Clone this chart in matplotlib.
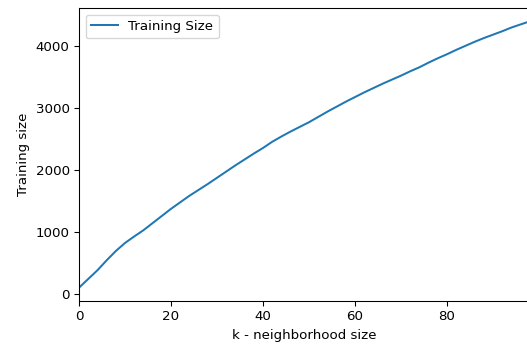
import matplotlib
matplotlib.use("Agg")
import matplotlib.pyplot as plt

k_values = [0, 2, 4, 6, 8, 10, 12, 14, 16, 18, 20, 22, 24, 26, 28, 30, 32, 34, 36, 38,
            40, 42, 44, 46, 48, 50, 52, 54, 56, 58, 60, 62, 64, 66, 68, 70, 72, 74, 76, 78,
            80, 82, 84, 86, 88, 90, 92, 94, 96, 98]
training_size = [100, 240, 380, 540, 690, 820, 925, 1025, 1140, 1255, 1370, 1475, 1580, 1675,
                 1770, 1870, 1970, 2070, 2165, 2260, 2350, 2450, 2535, 2615, 2690, 2765, 2850,
                 2935, 3015, 3095, 3170, 3245, 3315, 3385, 3450, 3515, 3585, 3650, 3725, 3795,
                 3860, 3930, 3995, 4060, 4120, 4175, 4230, 4290, 4340, 4390]

DPI = 96
fig = plt.figure(figsize=(527/DPI, 345/DPI), dpi=DPI)
ax = fig.add_axes([79/527, 44/345, 450.8/527, 293/345])
ax.plot(k_values, training_size, label="Training Size")
ax.set_xlim(0, 98)
ax.set_xticks([0, 20, 40, 60, 80])
ax.set_yticks([0, 1000, 2000, 3000, 4000])
ax.set_xlabel("k - neighborhood size")
ax.set_ylabel("Training size")
ax.legend(loc="upper left")
fig.savefig("out.png", dpi=DPI)
